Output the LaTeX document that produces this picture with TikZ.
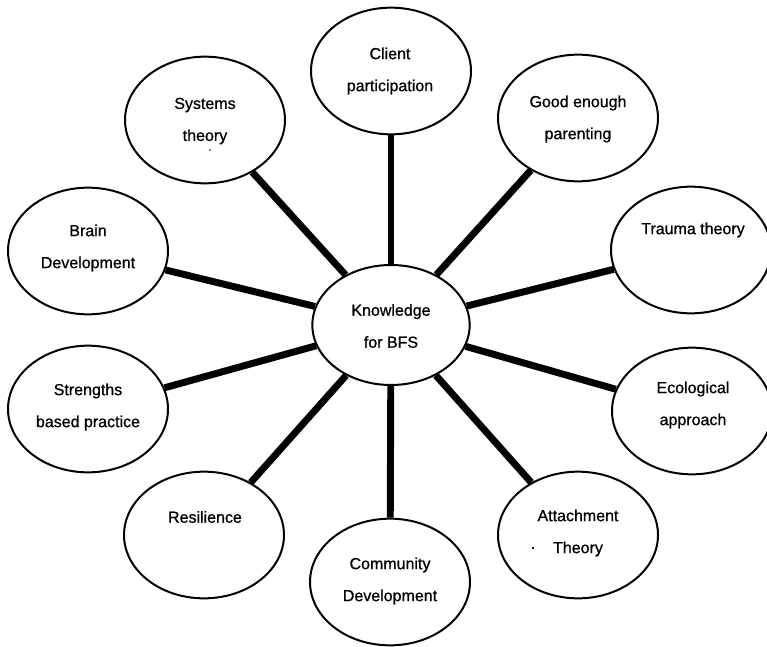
\documentclass[tikz,border=0pt]{standalone}
\usepackage{fontspec}
\setmainfont{Liberation Sans}[FakeBold=0.8]
\usetikzlibrary{shapes.geometric}
\begin{document}
\begin{tikzpicture}[x=0.75pt,y=-0.75pt,
  bubble/.style={ellipse,draw=black,line width=1.5pt,fill=white,inner sep=0pt,minimum width=120pt,minimum height=95pt},
  hub/.style={bubble,minimum width=118pt,minimum height=90pt},
  txt/.style={align=center,font=\fontsize{12pt}{24pt}\selectfont,inner sep=0pt},
  conn/.style={line width=5.2pt,black}]
\useasboundingbox (0,0) rectangle (767,646);
% ellipses
\node[hub] (hub) at (391,325) {};
\node[bubble] (client) at (391,71) {};
\node[bubble] (good) at (578,118) {};
\node[bubble] (trauma) at (691,250) {};
\node[bubble] (eco) at (692,411) {};
\node[bubble] (attach) at (578,535) {};
\node[bubble] (comm) at (390,582) {};
\node[bubble] (resil) at (204,535) {};
\node[bubble] (strength) at (88,409) {};
\node[bubble] (brain) at (88,251) {};
\node[bubble] (systems) at (205,120) {};
% connectors
\foreach \n in {client,good,trauma,eco,attach,comm,resil,strength,brain,systems}
  \draw[conn] (hub) -- (\n);
% texts
\node[txt] (hubT) at (391,326) {Knowledge\\for BFS};
\node[txt] (clientT) at (390,71) {Client\\participation};
\node[txt] (goodT) at (578,119) {Good enough\\parenting};
\node[txt] (traumaT) at (693,230) {Trauma theory};
\node[txt] (ecoT) at (693,405) {Ecological\\approach};
\node[txt] (attachT) at (578,533) {Attachment\\Theory};
\node[txt] (attachDot) at (533,548) {.};
\node[txt] (commT) at (390,581) {Community\\Development};
\node[txt] (resilT) at (205,517) {Resilience};
\node[txt] (strengthT) at (88,407) {Strengths\\based practice};
\node[txt] (brainT) at (88,248) {Brain\\Development};
\node[txt] (systemsT) at (205,121) {Systems\\theory};
\fill[black] (210,150) circle (0.6pt);
\end{tikzpicture}
\end{document}
